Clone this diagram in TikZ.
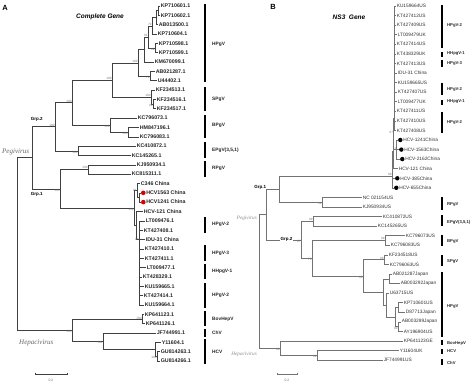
\documentclass[tikz,border=0pt]{standalone}
\usepackage{fontspec}
\setmainfont{Liberation Sans}
\newfontfamily\serifit{Liberation Serif}
\newcommand\lf[4]{\coordinate (#1) at (#2,#3); \node[leaf] (#1l) at (#1) {#4};}
\newcommand\lfr[4]{\coordinate (#1) at (#2,#3); \node[rdot] (#1d) at ({#2+2.3},#3) {}; \node[leaf] (#1l) at ({#2+4.5},#3) {#4};}
\newcommand\lfb[4]{\coordinate (#1) at (#2,#3); \node[leafb] (#1l) at (#1) {#4};}
\newcommand\lfk[4]{\coordinate (#1) at (#2,#3); \node[kdot] (#1d) at ({#2+2.3},#3) {}; \node[leafb] (#1l) at ({#2+4.5},#3) {#4};}
\newcommand\ed[2]{\draw[br] (#1) |- (#2);}
\newcommand\edb[2]{\draw[brB] (#1) |- (#2);}
\begin{document}
\begin{tikzpicture}[x=1pt,y=-1pt,
  br/.style={draw=black!75, line width=0.5pt},
  brB/.style={draw=black!55, line width=0.45pt},
  leaf/.style={anchor=west, inner sep=0.6pt, font=\bfseries\fontsize{5.3}{6}\selectfont, text=black!85},
  leafb/.style={anchor=west, inner sep=0.6pt, font=\fontsize{4.8}{5.5}\selectfont, text=black!80},
  bs/.style={inner sep=0.3pt, font=\fontsize{3.1}{3.5}\selectfont, text=black!55},
  grp/.style={anchor=west, inner sep=0pt, font=\bfseries\fontsize{4.8}{5.5}\selectfont, text=black!85},
  grpb/.style={anchor=west, inner sep=0pt, font=\bfseries\fontsize{4.2}{5}\selectfont, text=black!85},
  bar/.style={line width=2.6pt, black},
  rdot/.style={circle, fill=red!85!black, inner sep=0pt, minimum size=4.6pt},
  kdot/.style={circle, fill=black, inner sep=0pt, minimum size=4.4pt},
  clade/.style={font=\serifit\itshape\fontsize{7}{8}\selectfont, text=black!60, inner sep=0pt},
  cladeb/.style={font=\serifit\itshape\fontsize{5.2}{6}\selectfont, text=black!45, inner sep=0pt},
  ttl/.style={font=\bfseries\itshape\fontsize{6.5}{7}\selectfont, inner sep=0pt},
  pan/.style={font=\bfseries\fontsize{7.5}{8}\selectfont, inner sep=0pt},
  gl/.style={font=\bfseries\fontsize{4.5}{5}\selectfont, inner sep=0.6pt}
]
\useasboundingbox[fill=white] (0,0) rectangle (474,385);

% ---------------- Panel A ----------------
\node[pan] (pA) at (5,8) {A};
\node[ttl] (tA) at (100,17) {Complete Gene};

\lf{a0}{160}{6.0}{KP710601.1}
\lf{a1}{160}{15.3}{KP710602.1}
\lf{a2}{158}{24.7}{AB013500.1}
\lf{a3}{157}{34.0}{KP710604.1}
\lf{a4}{158}{43.4}{KP710598.1}
\lf{a5}{158}{52.7}{KP710599.1}
\lf{a6}{154}{62.0}{KM670099.1}
\lf{a7}{155}{71.4}{AB021287.1}
\lf{a8}{157}{80.7}{U44402.1}
\lf{a9}{155}{90.1}{KF234513.1}
\lf{a10}{156}{99.4}{KF234516.1}
\lf{a11}{156}{108.7}{KF234517.1}
\lf{a12}{137}{118.1}{KC796073.1}
\lf{a13}{139}{127.4}{HM847196.1}
\lf{a14}{139}{136.8}{KC796083.1}
\lf{a15}{136}{146.1}{KC410872.1}
\lf{a16}{131}{155.4}{KC145265.1}
\lf{a17}{136}{164.8}{KJ950934.1}
\lf{a18}{131}{174.1}{KC815311.1}
\lf{a19}{140}{183.5}{C346 China}
\lfr{a20}{141}{192.8}{HCV1563 China}
\lfr{a21}{141}{202.1}{HCV1241 China}
\lf{a22}{143}{211.5}{HCV-121 China}
\lf{a23}{145}{220.8}{LT009476.1}
\lf{a24}{143}{230.2}{KT427408.1}
\lf{a25}{145}{239.5}{IDU-31 China}
\lf{a26}{144}{248.8}{KT427410.1}
\lf{a27}{144}{258.2}{KT427411.1}
\lf{a28}{146}{267.5}{LT009477.1}
\lf{a29}{142}{276.9}{KT428329.1}
\lf{a30}{144}{286.2}{KU159665.1}
\lf{a31}{143}{295.5}{KT427414.1}
\lf{a32}{144}{304.9}{KU159664.1}
\lf{a33}{144}{314.2}{KP641123.1}
\lf{a34}{145}{323.6}{KP641126.1}
\lf{a35}{156}{332.9}{JF744991.1}
\lf{a36}{161}{342.2}{Y11604.1}
\lf{a37}{160}{351.6}{GU814263.1}
\lf{a38}{160}{360.9}{GU814266.1}

\coordinate (Aa) at (158,10.7);
\coordinate (Ab) at (156,17.7);
\coordinate (Ac) at (152,25.9);
\coordinate (Ad) at (155,48.1);
\coordinate (Ae) at (148,37.0);
\coordinate (Af) at (144,49.5);
\coordinate (Ag) at (150,76.1);
\coordinate (AHP) at (138,62.8);
\coordinate (ASP2) at (153,104.1);
\coordinate (ASP) at (151,97.1);
\coordinate (AHS) at (112,80.0);
\coordinate (ABP2) at (128,132.1);
\coordinate (ABP) at (110,125.1);
\coordinate (AQ) at (72,102.6);
\coordinate (AEP) at (78,150.8);
\coordinate (AG2) at (55,126.7);
\coordinate (ARP) at (88,169.5);
\coordinate (AX2) at (139,197.5);
\coordinate (AX) at (137,190.5);
\coordinate (AZ) at (139,239.5);
\coordinate (AW) at (136,225.5);
\coordinate (ACH) at (134,208.0);
\coordinate (AG1) at (60,188.8);
\coordinate (AP) at (32,157.7);
\coordinate (ABV) at (142,318.9);
\coordinate (AHC3) at (157,356.2);
\coordinate (AHC2) at (155,349.2);
\coordinate (AHC) at (103,341.0);
\coordinate (AHE) at (72,330.0);
\coordinate (AR) at (17,243.8);

\ed{Aa}{a0}\ed{Aa}{a1}\ed{Ab}{Aa}\ed{Ab}{a2}\ed{Ac}{Ab}\ed{Ac}{a3}
\ed{Ad}{a4}\ed{Ad}{a5}\ed{Ae}{Ac}\ed{Ae}{Ad}\ed{Af}{Ae}\ed{Af}{a6}
\ed{Ag}{a7}\ed{Ag}{a8}\ed{AHP}{Af}\ed{AHP}{Ag}
\ed{ASP2}{a10}\ed{ASP2}{a11}\ed{ASP}{a9}\ed{ASP}{ASP2}
\ed{AHS}{AHP}\ed{AHS}{ASP}
\ed{ABP2}{a13}\ed{ABP2}{a14}\ed{ABP}{a12}\ed{ABP}{ABP2}
\ed{AQ}{AHS}\ed{AQ}{ABP}
\ed{AEP}{a15}\ed{AEP}{a16}
\ed{AG2}{AQ}\ed{AG2}{AEP}
\ed{ARP}{a17}\ed{ARP}{a18}
\ed{AX2}{a20}\ed{AX2}{a21}\ed{AX}{a19}\ed{AX}{AX2}
\ed{AZ}{a23}\ed{AZ}{a24}\ed{AZ}{a25}\ed{AZ}{a26}\ed{AZ}{a27}
\ed{AZ}{a28}\ed{AZ}{a29}\ed{AZ}{a30}\ed{AZ}{a31}\ed{AZ}{a32}
\ed{AW}{a22}\ed{AW}{AZ}
\ed{ACH}{AX}\ed{ACH}{AW}
\ed{AG1}{ARP}\ed{AG1}{ACH}
\ed{AP}{AG2}\ed{AP}{AG1}
\ed{ABV}{a33}\ed{ABV}{a34}
\ed{AHC3}{a37}\ed{AHC3}{a38}\ed{AHC2}{a36}\ed{AHC2}{AHC3}
\ed{AHC}{a35}\ed{AHC}{AHC2}
\ed{AHE}{ABV}\ed{AHE}{AHC}
\ed{AR}{AP}\ed{AR}{AHE}

% bootstrap A
\node[bs,anchor=south east] (bAc) at (Ac) {74};
\node[bs,anchor=south east] (bAe) at (Ae) {91};
\node[bs,anchor=north east] (bAd) at (Ad) {89};
\node[bs,anchor=south east] (bAHP) at (AHP) {100};
\node[bs,anchor=north east] (bAg) at (Ag) {79};
\node[bs,anchor=south east] (bAHS) at (AHS) {100};
\node[bs,anchor=south east] (bASP) at (ASP) {100};
\node[bs,anchor=north east] (bASP2) at (ASP2) {99};
\node[bs,anchor=north east] (bABP) at (ABP) {100};
\node[bs,anchor=north east] (bABP2) at (ABP2) {100};
\node[bs,anchor=south east] (bAQ) at (AQ) {100};
\node[bs,anchor=north east] (bAEP) at (AEP) {100};
\node[bs,anchor=south east] (bAG2) at (AG2) {100};
\node[bs,anchor=south east] (bARP) at (ARP) {100};
\node[bs,anchor=east] (bAX) at (AX) {91};
\node[bs,anchor=north east] (bAG1) at (AG1) {100};
\node[bs,anchor=north east] (bACH) at (ACH) {100};
\node[bs,anchor=east] (bAZ) at (AZ) {98};
\node[bs,anchor=east] (bABV) at (ABV) {100};
\node[bs,anchor=north east] (bAHE) at (AHE) {100};
\node[bs,anchor=north east] (bAHC) at (AHC) {100};
\node[bs,anchor=north east] (bAHC3) at (AHC3) {100};

\node[gl,anchor=south west] (gA2) at (30,122) {Grp.2};
\node[gl,anchor=north west] (gA1) at (30,192) {Grp.1};
\node[clade,anchor=south west] (cA1) at (2,155) {Pegivirus};
\node[clade,anchor=west] (cA2) at (19,343) {Hepacivirus};

% bars A
\draw[bar] (205,4) -- (205,82);   \node[grp] (gAa) at (212,44) {HPgV};
\draw[bar] (205,87) -- (205,111); \node[grp] (gAb) at (212,99) {SPgV};
\draw[bar] (205,115) -- (205,138);\node[grp] (gAc) at (212,125) {BPgV};
\draw[bar] (205,142) -- (205,158);\node[grp] (gAd) at (212,150) {EPgV(3,5,1)};
\draw[bar] (205,161) -- (205,177);\node[grp] (gAe) at (212,168) {RPgV};
\draw[bar] (205,217) -- (205,233);\node[grp] (gAf) at (212,224) {HPgV-2};
\draw[bar] (205,245) -- (205,261);\node[grp] (gAg) at (212,253) {HPgV-3};
\draw[bar] (205,264) -- (205,279);\node[grp] (gAh) at (212,271) {HHpgV-1};
\draw[bar] (205,283) -- (205,308);\node[grp] (gAi) at (212,295) {HPgV-2};
\draw[bar] (205,311) -- (205,326);\node[grp] (gAj) at (212,319) {BovHepV};
\draw[bar] (205,329) -- (205,337);\node[grp] (gAk) at (212,333) {ChV};
\draw[bar] (205,339) -- (205,364);\node[grp] (gAl) at (212,352) {HCV};

% scale A
\coordinate (sA1) at (35,374); \coordinate (sA2) at (67,374);
\draw[br] (sA1) -- (sA2);
\draw[br] (35,372.6) -- (35,375.4); \draw[br] (67,372.6) -- (67,375.4);
\node[bs,font=\fontsize{3.4}{4}\selectfont] (sAt) at (51,380) {0.2};

% ---------------- Panel B ----------------
\node[pan] (pB) at (273,7) {B};
\node[ttl] (tB) at (349,17) {NS3\ \ Gene};

\lfb{b0}{396}{6.0}{KU159664US}
\lfb{b1}{396}{15.6}{KT427412US}
\lfb{b2}{396}{25.1}{KT427409US}
\lfb{b3}{397}{34.7}{LT009479UK}
\lfb{b4}{396}{44.3}{KT427414US}
\lfb{b5}{396}{53.9}{KT438329UK}
\lfb{b6}{396}{63.4}{KT427413US}
\lfb{b7}{397}{73.0}{IDU-31 China}
\lfb{b8}{397}{82.6}{KU159665US}
\lfb{b9}{397}{92.1}{KT427407US}
\lfb{b10}{397}{101.7}{LT009477UK}
\lfb{b11}{396}{111.3}{KT427411US}
\lfb{b12}{396}{120.8}{KT427410US}
\lfb{b13}{396}{130.4}{KT427408US}
\lfk{b14}{398}{140.0}{HCV-1241China}
\lfk{b15}{399}{149.6}{HCV-1563China}
\lfk{b16}{400}{159.1}{HCV-2162China}
\lfb{b17}{398}{168.7}{HCV-121 China}
\lfk{b18}{395}{178.3}{HCV-385China}
\lfk{b19}{394}{187.8}{HCV-655China}
\lfb{b20}{362}{197.4}{NC 021154US}
\lfb{b21}{362}{207.0}{KJ950934US}
\lfb{b22}{382}{216.5}{KC410872US}
\lfb{b23}{377}{226.1}{KC145265US}
\lfb{b24}{405}{235.7}{KC796073US}
\lfb{b25}{390}{245.3}{KC796083US}
\lfb{b26}{388}{254.8}{KF234518US}
\lfb{b27}{389}{264.4}{KC796063US}
\lfb{b28}{392}{274.0}{AB021287Japan}
\lfb{b29}{400}{283.5}{AB003292Japan}
\lfb{b30}{389}{293.1}{U63715US}
\lfb{b31}{403}{302.7}{KP710601US}
\lfb{b32}{405}{312.2}{D87713Japan}
\lfb{b33}{401}{321.8}{AB003289Japan}
\lfb{b34}{403}{331.4}{AY196904US}
\lfb{b35}{403}{341.0}{KP641123GE}
\lfb{b36}{399}{350.5}{Y11604UK}
\lfb{b37}{383}{360.1}{JF744991US}

\coordinate (BS1) at (394.5,118);
\coordinate (BS2) at (396.5,149.6);
\coordinate (BS) at (393.5,133.8);
\coordinate (BC3) at (393,151.3);
\coordinate (BC2) at (392.5,164.8);
\coordinate (BC) at (392,176.3);
\coordinate (BRP) at (322,202.2);
\coordinate (BG1) at (279,189.3);
\coordinate (BEP) at (313,221.3);
\coordinate (BBP) at (385,240.5);
\coordinate (BSP) at (384,259.6);
\coordinate (BA1) at (389,278.8);
\coordinate (BB1) at (398,307.5);
\coordinate (BB2) at (398,326.6);
\coordinate (BB3) at (395,317.0);
\coordinate (BA2) at (386,305.0);
\coordinate (BHP) at (383,291.9);
\coordinate (BSH) at (363,275.8);
\coordinate (BBSH) at (312,258.2);
\coordinate (BG2) at (301,239.8);
\coordinate (BP) at (266,214.6);
\coordinate (BHC) at (317,355.3);
\coordinate (BHE) at (280,348.2);
\coordinate (BR) at (259,281.4);

\foreach \i in {0,...,13} {\edb{BS1}{b\i}}
\edb{BS2}{b14}\edb{BS2}{b15}\edb{BS2}{b16}
\edb{BS}{BS1}\edb{BS}{BS2}
\edb{BC3}{BS}\edb{BC3}{b17}
\edb{BC2}{BC3}\edb{BC2}{b18}
\edb{BC}{BC2}\edb{BC}{b19}
\edb{BRP}{b20}\edb{BRP}{b21}
\edb{BG1}{BC}\edb{BG1}{BRP}
\edb{BEP}{b22}\edb{BEP}{b23}
\edb{BBP}{b24}\edb{BBP}{b25}
\edb{BSP}{b26}\edb{BSP}{b27}
\edb{BA1}{b28}\edb{BA1}{b29}
\edb{BB1}{b31}\edb{BB1}{b32}
\edb{BB2}{b33}\edb{BB2}{b34}
\edb{BB3}{BB1}\edb{BB3}{BB2}
\edb{BA2}{b30}\edb{BA2}{BB3}
\edb{BHP}{BA1}\edb{BHP}{BA2}
\edb{BSH}{BSP}\edb{BSH}{BHP}
\edb{BBSH}{BBP}\edb{BBSH}{BSH}
\edb{BG2}{BEP}\edb{BG2}{BBSH}
\edb{BP}{BG1}\edb{BP}{BG2}
\edb{BHC}{b36}\edb{BHC}{b37}
\edb{BHE}{b35}\edb{BHE}{BHC}
\edb{BR}{BP}\edb{BR}{BHE}

% bootstrap B
\node[bs,anchor=south east] (bBC) at (BC) {99};
\node[bs,anchor=south east] (bBS) at (BS) {67};
\node[bs,anchor=south east] (bBS2) at (BS2) {71};
\node[bs,anchor=north east] (bBRP) at (BRP) {99};
\node[bs,anchor=south east] (bBEP) at (BEP) {99};
\node[bs,anchor=north east] (bBG2) at (BG2) {97};
\node[bs,anchor=north east] (bBBSH) at (BBSH) {79};
\node[bs,anchor=south east] (bBBP) at (BBP) {99};
\node[bs,anchor=south east] (bBSP) at (BSP) {99};
\node[bs,anchor=north east] (bBSH) at (BSH) {99};
\node[bs,anchor=north east] (bBB2) at (BB2) {99};
\node[bs,anchor=north east] (bBHC) at (BHC) {99};
\node[bs,anchor=north east] (bBHE) at (BHE) {99};

\node[gl,anchor=south east] (gB1) at (267,190) {Grp.1};
\node[gl,fill=white] (gB2) at (286.5,239.8) {Grp.2};
\node[cladeb,anchor=east] (cB1) at (257,218) {Pegivirus};
\node[cladeb,anchor=east] (cB2) at (257,354) {Hepacivirus};

% bars B
\draw[bar] (442,5) -- (442,48);    \node[grpb] (gBa) at (447,25) {HPgV-2};
\draw[bar] (442,52) -- (442,57);   \node[grpb] (gBb) at (447,54) {HHpgV-1};
\draw[bar] (442,60) -- (442,67);   \node[grpb] (gBc) at (447,63) {HPgV-3};
\draw[bar] (442,83) -- (442,95);   \node[grpb] (gBd) at (447,89) {HPgV-2};
\draw[bar] (442,100) -- (442,105); \node[grpb] (gBe) at (447,102) {HHpgV-1};
\draw[bar] (442,112) -- (442,133); \node[grpb] (gBf) at (447,122) {HPgV-2};
\draw[bar] (442,197) -- (442,210); \node[grpb] (gBg) at (447,204) {RPgV};
\draw[bar] (442,215) -- (442,226); \node[grpb] (gBh) at (447,222) {EPgV(3,5,1)};
\draw[bar] (442,235) -- (442,246); \node[grpb] (gBi) at (447,241) {BPgV};
\draw[bar] (442,255) -- (442,266); \node[grpb] (gBj) at (447,261) {SPgV};
\draw[bar] (442,272) -- (442,337); \node[grpb] (gBk) at (447,306) {HPgV};
\draw[bar] (442,340) -- (442,345); \node[grpb] (gBl) at (447,343) {BovHepV};
\draw[bar] (442,349) -- (442,354); \node[grpb] (gBm) at (447,351) {HCV};
\draw[bar] (442,359) -- (442,365); \node[grpb] (gBn) at (447,363) {ChV};

% scale B
\coordinate (sB1) at (277,374); \coordinate (sB2) at (297,374);
\draw[brB] (sB1) -- (sB2);
\draw[brB] (277,372.6) -- (277,375.4); \draw[brB] (297,372.6) -- (297,375.4);
\node[bs,font=\fontsize{3.4}{4}\selectfont] (sBt) at (287,380) {0.2};
\end{tikzpicture}
\end{document}
